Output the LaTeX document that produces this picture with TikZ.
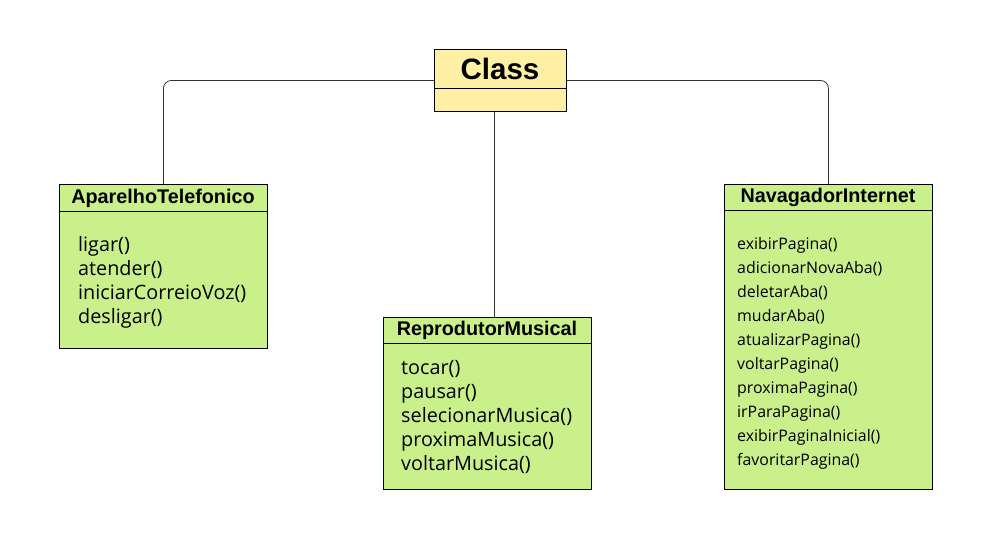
\documentclass[tikz,border=0pt]{standalone}
\usepackage{fontspec}
\setmainfont{Liberation Sans}
\newfontfamily\methodfont{Open Sans}
\usetikzlibrary{positioning}
\definecolor{classyellow}{RGB}{255,240,166}
\definecolor{classgreen}{RGB}{202,240,140}
\newcommand{\linecolor}{black!80}
\newcommand{\boxwidth}{208pt}

\tikzset{
  classbox/.style={draw, line width=0.9pt, fill=classgreen, anchor=north west,
    inner sep=0pt, minimum width=\boxwidth},
  classtitle/.style={font=\bfseries\fontsize{19.8}{22}\selectfont, anchor=center},
  methods/.style={font=\methodfont\fontsize{19.8}{23.8}\selectfont, align=left,
    anchor=north west, inner sep=0pt},
  smallmethods/.style={methods, font=\methodfont\fontsize{15.9}{24}\selectfont},
  link/.style={draw=\linecolor, line width=0.8pt, rounded corners=8pt}
}

\begin{document}
\begin{tikzpicture}[x=1pt, y=-1pt]
\useasboundingbox (0,0) rectangle (991,540);
% superclass
\node[classbox, fill=classyellow, minimum width=132pt, minimum height=62pt] (cls) at (434,49) {};
\draw[line width=0.9pt] (434,88) -- (566,88);
\node[font=\bfseries\fontsize{29.5}{32}\selectfont] (clsname) at (500,68.5) {Class};
% subclasses
\node[classbox, minimum height=164pt] (tel) at (59,184) {};
\node[classbox, minimum height=172pt] (rep) at (383,317) {};
\node[classbox, minimum height=305pt] (nav) at (724,184) {};
\draw[line width=0.9pt] (59,211) -- (267,211);
\draw[line width=0.9pt] (383,343) -- (591,343);
\draw[line width=0.9pt] (724,210) -- (932,210);
\node[classtitle] (telname) at (163,198) {AparelhoTelefonico};
\node[classtitle] (repname) at (487,330.5) {ReprodutorMusical};
\node[classtitle] (navname) at (828,197.5) {NavagadorInternet};
\node[methods] (telops) at (78,236.5) {ligar()\\atender()\\iniciarCorreioVoz()\\desligar()};
\node[methods] (repops) at (401,360.5) {tocar()\\pausar()\\selecionarMusica()\\proximaMusica()\\voltarMusica()};
\node[smallmethods] (navops) at (737,237.5) {exibirPagina()\\adicionarNovaAba()\\deletarAba()\\mudarAba()\\atualizarPagina()\\voltarPagina()\\proximaPagina()\\irParaPagina()\\exibirPaginaInicial()\\favoritarPagina()};
% inheritance links
\draw[link] (cls.west) -| (tel.north);
\draw[link] (cls.east) -| (nav.north);
\draw[link] ([xshift=-6pt]cls.south) -- ([xshift=-6pt]cls.south |- rep.north);
\end{tikzpicture}
\end{document}
